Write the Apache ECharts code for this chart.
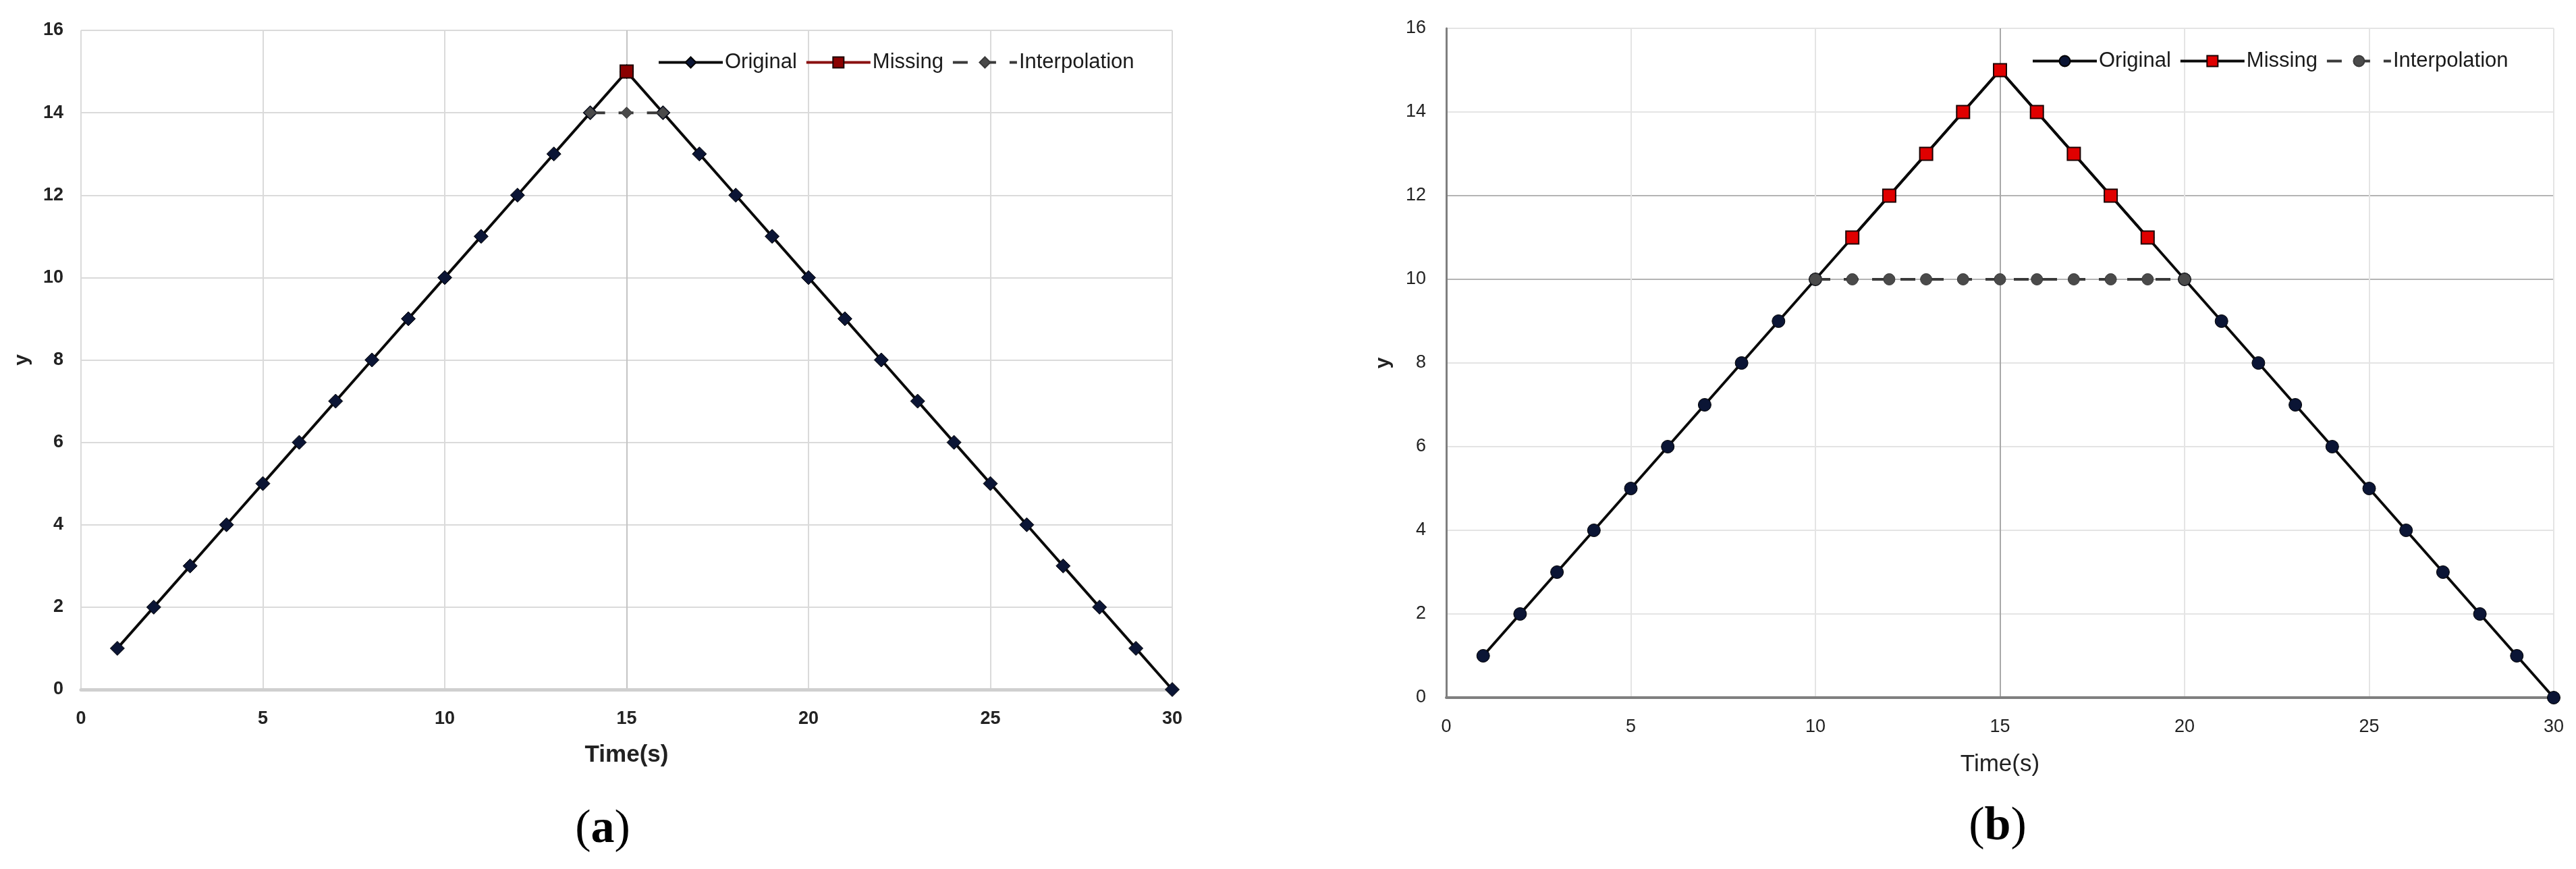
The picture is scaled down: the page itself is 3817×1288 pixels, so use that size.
<!DOCTYPE html>
<html>
<head>
<meta charset="utf-8">
<script src="https://cdn.jsdelivr.net/npm/echarts@6/dist/echarts.min.js"></script>
<style>
html,body{margin:0;padding:0;background:#fff;width:3817px;height:1288px;overflow:hidden;}
#ca{position:absolute;left:0;top:0;width:1908px;height:1288px;}
#cb{position:absolute;left:1908px;top:0;width:1909px;height:1288px;}
</style>
</head>
<body>
<div id="ca"></div>
<div id="cb"></div>
<script>
// ---- data ----
const xTicks = [0, 5, 10, 15, 20, 25, 30];
const yTicks = [0, 2, 4, 6, 8, 10, 12, 14, 16];
const seriesNames = ['Original', 'Missing', 'Interpolation'];

// (a)
const timeA = [1,2,3,4,5,6,7,8,9,10,11,12,13,14,15,16,17,18,19,20,21,22,23,24,25,26,27,28,29,30];
const originalA = [1,2,3,4,5,6,7,8,9,10,11,12,13,14,15,14,13,12,11,10,9,8,7,6,5,4,3,2,1,0];
const missingTimeA = [15];
const missingA = [15];
const interpTimeA = [14, 15, 16];
const interpA = [14, 14, 14];

// (b)
const timeB = [1,2,3,4,5,6,7,8,9,10,11,12,13,14,15,16,17,18,19,20,21,22,23,24,25,26,27,28,29,30];
const originalB = [1,2,3,4,5,6,7,8,9,10,11,12,13,14,15,14,13,12,11,10,9,8,7,6,5,4,3,2,1,0];
const missingTimeB = [11,12,13,14,15,16,17,18,19];
const missingB = [11,12,13,14,15,14,13,12,11];
const interpTimeB = [10,11,12,13,14,15,16,17,18,19,20];
const interpB = [10,10,10,10,10,10,10,10,10,10,10];

const pairs = (xs, ys) => xs.map((x, i) => [x, ys[i]]);
const FONT = "'Liberation Sans', Arial, sans-serif";

function makeOption(cfg) {
  return {
    animation: false,
    backgroundColor: '#ffffff',
    grid: cfg.grid,
    legend: {
      data: seriesNames,
      left: cfg.legendLeft,
      top: cfg.legendTop,
      itemWidth: 95,
      itemHeight: 20,
      itemGap: 12,
      lineStyle: { width: 4 },
      textStyle: { fontFamily: FONT, fontSize: 31, color: '#1a1a1a', padding: [0, 0, 0, -2] }
    },
    xAxis: {
      type: 'value',
      min: xTicks[0], max: xTicks[xTicks.length - 1], interval: xTicks[1] - xTicks[0],
      name: 'Time(s)', nameLocation: 'middle', nameGap: cfg.xNameGap,
      nameTextStyle: { fontFamily: FONT, fontSize: 35, fontWeight: cfg.bold ? 'bold' : 'normal', color: '#222' },
      axisLine: { show: true, lineStyle: cfg.xAxisLine },
      axisTick: { show: false },
      axisLabel: { fontFamily: FONT, fontSize: 27, fontWeight: cfg.bold ? 'bold' : 'normal', color: '#222', margin: 30 },
      splitLine: { show: true, lineStyle: { color: cfg.xSplitColors, width: 2 } }
    },
    yAxis: {
      type: 'value',
      min: yTicks[0], max: yTicks[yTicks.length - 1], interval: yTicks[1] - yTicks[0],
      name: 'y', nameLocation: 'middle', nameGap: cfg.yNameGap, nameRotate: 90,
      nameTextStyle: { fontFamily: FONT, fontSize: 30, fontWeight: 'bold', color: '#222' },
      axisLine: { show: cfg.yAxisLine != null, lineStyle: cfg.yAxisLine || {} },
      axisTick: { show: false },
      axisLabel: { fontFamily: FONT, fontSize: 27, fontWeight: cfg.bold ? 'bold' : 'normal', color: '#222', margin: cfg.yLabelMargin },
      splitLine: { show: true, lineStyle: { color: cfg.ySplitColors, width: 2 } }
    },
    graphic: [{
      type: 'text', x: cfg.tagX, y: cfg.tagY,
      style: {
        text: '{p|(}{l|' + cfg.tag + '}{p|)}',
        align: 'center', verticalAlign: 'middle',
        rich: {
          p: { fontFamily: "'Liberation Serif', 'Times New Roman', serif", fontSize: 70, fill: '#000' },
          l: { fontFamily: "'Liberation Serif', 'Times New Roman', serif", fontSize: 70, fontWeight: 'bold', fill: '#000' }
        }
      }
    }],
    series: [
      {
        name: 'Original', type: 'line', data: pairs(cfg.time, cfg.original),
        symbol: cfg.origSymbol, symbolSize: cfg.origSize, showAllSymbol: true,
        lineStyle: { color: '#0a0a0a', width: 4 },
        itemStyle: { color: '#0b1535', borderColor: '#000', borderWidth: 1 },
        z: 2
      },
      {
        name: 'Missing', type: 'line', data: pairs(cfg.missingTime, cfg.missing),
        symbol: 'rect', symbolSize: 19, showAllSymbol: true,
        lineStyle: { color: cfg.missLine, width: 4 },
        itemStyle: { color: cfg.missFill, borderColor: '#1a0000', borderWidth: 2 },
        z: 3
      },
      {
        name: 'Interpolation', type: 'line', data: pairs(cfg.interpTime, cfg.interp),
        symbol: cfg.interpSymbol, symbolSize: 17, showAllSymbol: true,
        lineStyle: { color: '#3a3a3a', width: 4, type: [22, 20] },
        itemStyle: { color: '#4a4a4a', borderColor: '#3a3a3a', borderWidth: 1 },
        z: 4
      }
    ]
  };
}

const lightA = '#dadada';
const chartA = echarts.init(document.getElementById('ca'), null, { renderer: 'canvas' });
chartA.setOption(makeOption({
  grid: { left: 120, right: 171, top: 45, bottom: 266 },
  legendLeft: 969, legendTop: 72,
  bold: true,
  xNameGap: 80, yNameGap: 72, yLabelMargin: 26,
  xAxisLine: { color: '#cfcfcf', width: 5 },
  yAxisLine: null,
  xSplitColors: [lightA, lightA, lightA, '#c4c4c4', lightA, lightA, lightA],
  ySplitColors: [lightA, lightA, lightA, lightA, lightA, lightA, lightA, lightA, lightA],
  time: timeA, original: originalA,
  missingTime: missingTimeA, missing: missingA,
  interpTime: interpTimeA, interp: interpA,
  origSymbol: 'diamond', origSize: 21, interpSymbol: 'diamond',
  missLine: '#8a1010', missFill: '#8b0000',
  tag: 'a', tagX: 893, tagY: 1230
}));

const lightB = '#e4e4e4';
const darkB = '#b4b4b4';
const chartB = echarts.init(document.getElementById('cb'), null, { renderer: 'canvas' });
chartB.setOption(makeOption({
  grid: { left: 235, right: 33, top: 42, bottom: 254 },
  legendLeft: 1097, legendTop: 70,
  bold: false,
  xNameGap: 82, yNameGap: 78, yLabelMargin: 30,
  xAxisLine: { color: '#7f7f7f', width: 4 },
  yAxisLine: { color: '#7f7f7f', width: 3 },
  xSplitColors: [lightB, lightB, lightB, '#a8a8a8', lightB, lightB, lightB],
  ySplitColors: [lightB, lightB, lightB, lightB, lightB, darkB, darkB, lightB, lightB],
  time: timeB, original: originalB,
  missingTime: missingTimeB, missing: missingB,
  interpTime: interpTimeB, interp: interpB,
  origSymbol: 'circle', origSize: 19, interpSymbol: 'circle',
  missLine: '#0a0a0a', missFill: '#e00000',
  tag: 'b', tagX: 1052, tagY: 1226
}));
</script>
</body>
</html>
